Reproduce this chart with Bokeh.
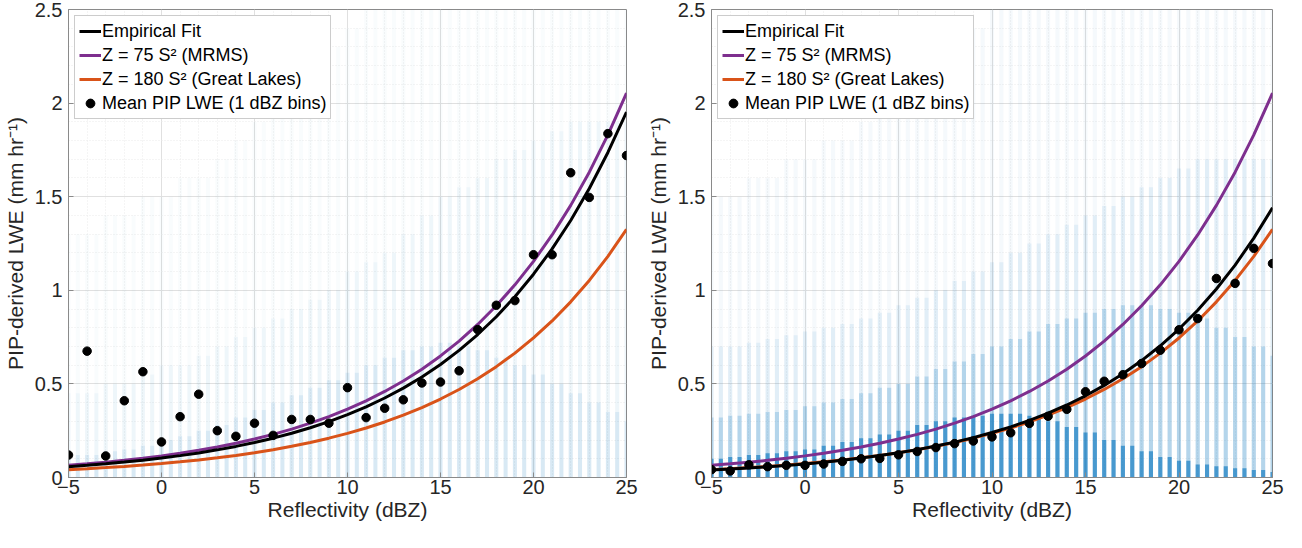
from bokeh.plotting import figure
from bokeh.models import Range1d, FixedTicker, Legend, LegendItem
from bokeh.layouts import row
from bokeh.embed import file_html
from bokeh.resources import INLINE

# ---------------- data ----------------
dbz = list(range(-5, 26))

fit_left = [0.0578, 0.0650, 0.0731, 0.0822, 0.0924, 0.1039, 0.1168, 0.1314, 0.1477, 0.1661,
            0.1868, 0.2101, 0.2362, 0.2656, 0.2987, 0.3359, 0.3777, 0.4247, 0.4776, 0.5371,
            0.6040, 0.6791, 0.7637, 0.8588, 0.9657, 1.0859, 1.2211, 1.3731, 1.5440, 1.7363, 1.9524]
fit_right = [0.0400, 0.0451, 0.0508, 0.0573, 0.0645, 0.0727, 0.0820, 0.0924, 0.1041, 0.1173,
             0.1322, 0.1489, 0.1678, 0.1891, 0.2131, 0.2402, 0.2706, 0.3050, 0.3437, 0.3873,
             0.4364, 0.4918, 0.5542, 0.6245, 0.7037, 0.7930, 0.8936, 1.0070, 1.1348, 1.2788, 1.4410]
mrms = [0.0649, 0.0729, 0.0818, 0.0917, 0.1029, 0.1155, 0.1296, 0.1454, 0.1631, 0.1830,
        0.2053, 0.2304, 0.2585, 0.2901, 0.3254, 0.3652, 0.4097, 0.4597, 0.5158, 0.5787,
        0.6493, 0.7286, 0.8175, 0.9172, 1.0291, 1.1547, 1.2956, 1.4537, 1.6311, 1.8301, 2.0534]
great_lakes = [0.0419, 0.0470, 0.0528, 0.0592, 0.0664, 0.0745, 0.0836, 0.0938, 0.1053, 0.1181,
               0.1326, 0.1487, 0.1669, 0.1872, 0.2101, 0.2357, 0.2645, 0.2967, 0.3330, 0.3736,
               0.4192, 0.4703, 0.5277, 0.5921, 0.6643, 0.7454, 0.8363, 0.9384, 1.0529, 1.1814, 1.3255]
mean_left = [0.12, 0.675, 0.115, 0.41, 0.565, 0.19, 0.325, 0.445, 0.25, 0.22,
             0.29, 0.225, 0.31, 0.31, 0.29, 0.48, 0.32, 0.37, 0.415, 0.505,
             0.51, 0.57, 0.79, 0.92, 0.945, 1.19, 1.19, 1.628, 1.496, 1.837, 1.72]
mean_right = [0.042, 0.035, 0.068, 0.058, 0.065, 0.065, 0.072, 0.086, 0.10, 0.102,
              0.121, 0.139, 0.16, 0.181, 0.195, 0.217, 0.239, 0.289, 0.327, 0.364,
              0.458, 0.514, 0.549, 0.609, 0.68, 0.789, 0.849, 1.063, 1.037, 1.224, 1.143]

# envelope (top LWE) of each density band of the individual PIP samples, per 1 dBZ
left_faint = [1.3, 1.3, 1.4, 1.4, 1.5, 1.5, 1.6, 1.6, 1.7, 1.8, 1.9, 2.0, 2.1, 2.2, 2.3, 2.4,
              2.5, 2.5, 2.5, 2.5, 2.5, 2.5, 2.5, 2.5, 2.5, 2.5, 2.5, 2.5, 2.5, 2.5, 2.5]
left_light = [0.45, 0.45, 0.5, 0.5, 0.55, 0.6, 0.6, 0.65, 0.7, 0.75, 0.8, 0.85, 0.9, 0.95, 1.0, 1.1,
              1.15, 1.2, 1.3, 1.4, 1.5, 1.55, 1.6, 1.7, 1.75, 1.8, 1.85, 1.9, 1.9, 1.9, 1.9]
left_medium = [0.12, 0.12, 0.14, 0.15, 0.17, 0.2, 0.22, 0.25, 0.28, 0.32, 0.36, 0.4, 0.44, 0.48, 0.52, 0.56,
               0.6, 0.64, 0.68, 0.7, 0.72, 0.7, 0.68, 0.64, 0.6, 0.55, 0.5, 0.45, 0.4, 0.35, 0.3]
right_faint = [1.5, 1.5, 1.6, 1.6, 1.7, 1.7, 1.8, 1.8, 1.9, 2.0, 2.0, 2.1, 2.2, 2.3, 2.4,
               2.5, 2.5, 2.5, 2.5, 2.5, 2.5, 2.5, 2.5, 2.5, 2.5, 2.5, 2.5, 2.5, 2.5, 2.5, 2.5]
right_light = [0.7, 0.7, 0.72, 0.74, 0.76, 0.78, 0.8, 0.82, 0.85, 0.88, 0.92, 0.96, 1.0, 1.05, 1.1, 1.15,
               1.2, 1.25, 1.3, 1.35, 1.4, 1.45, 1.5, 1.55, 1.6, 1.65, 1.7, 1.7, 1.7, 1.7, 1.7]
right_medium = [0.32, 0.33, 0.34, 0.35, 0.36, 0.38, 0.4, 0.42, 0.45, 0.48, 0.5, 0.54, 0.58, 0.62, 0.66, 0.7,
                0.74, 0.78, 0.82, 0.85, 0.88, 0.9, 0.92, 0.92, 0.9, 0.88, 0.85, 0.8, 0.75, 0.7, 0.65]
right_dense = [0.1, 0.11, 0.12, 0.13, 0.14, 0.15, 0.17, 0.19, 0.21, 0.23, 0.25, 0.28, 0.3, 0.32, 0.33, 0.34,
               0.34, 0.33, 0.3, 0.27, 0.24, 0.2, 0.17, 0.14, 0.11, 0.09, 0.07, 0.06, 0.05, 0.04, 0.03]

x_ticks = [-5, 0, 5, 10, 15, 20, 25]
y_ticks = [0, 0.5, 1, 1.5, 2, 2.5]
y_tick_labels = {0: "0", 0.5: "0.5", 1: "1", 1.5: "1.5", 2: "2", 2.5: "2.5"}

x_title = "Reflectivity (dBZ)"
y_title = "PIP-derived LWE (mm hr\u207b\u00b9)"
labels = ["Empirical Fit", "Z = 75 S\u00b2 (MRMS)", "Z = 180 S\u00b2 (Great Lakes)", "Mean PIP LWE (1 dBZ bins)"]

FONT = "Liberation Sans"
TXT = "#262626"
BLUE = "#0072BD"
PURPLE = "#7E2F8E"
ORANGE = "#D95319"


def cloud_columns(tops):
    xs, ys = [], []
    for d, t in zip(dbz, tops):
        xs.append(d); ys.append(t)
        if d < 25:
            xs.append(d + 0.5); ys.append(t)
    return xs, ys


def make_panel(fit, mean, layers, border_left, border_right):
    p = figure(width=643, height=523, output_backend="svg", toolbar_location=None,
               x_range=Range1d(-5, 25), y_range=Range1d(0, 2.5),
               min_border_left=border_left, min_border_right=border_right,
               min_border_top=9, min_border_bottom=40)
    p.outline_line_color = "#8a8a8a"
    p.outline_line_width = 1
    p.background_fill_color = "white"

    for tops, alpha in layers:
        xs, ys = cloud_columns(tops)
        p.vbar(x=xs, top=ys, bottom=0, width=0.22, fill_color=BLUE, fill_alpha=alpha, line_color=None)

    r_mrms = p.line(dbz, mrms, line_color=PURPLE, line_width=3)
    r_gl = p.line(dbz, great_lakes, line_color=ORANGE, line_width=3)
    r_fit = p.line(dbz, fit, line_color="black", line_width=3)
    r_mean = p.scatter(dbz, mean, size=8.5, fill_color="black", line_color="black")
    legend = Legend(items=[LegendItem(label=labels[0], renderers=[r_fit]),
                           LegendItem(label=labels[1], renderers=[r_mrms]),
                           LegendItem(label=labels[2], renderers=[r_gl]),
                           LegendItem(label=labels[3], renderers=[r_mean])],
                    location="top_left")
    legend.margin = 6
    legend.padding = 4
    legend.spacing = 2
    legend.label_text_font = FONT
    legend.label_text_font_size = "18px"
    legend.label_text_color = "black"
    legend.label_height = 22
    legend.label_standoff = 1
    legend.glyph_width = 22
    legend.glyph_height = 22
    legend.border_line_color = "#9a9a9a"
    legend.border_line_width = 1
    legend.background_fill_alpha = 1
    p.add_layout(legend)

    p.xaxis.ticker = FixedTicker(ticks=x_ticks, minor_ticks=list(range(-5, 26)))
    p.yaxis.ticker = FixedTicker(ticks=y_ticks, minor_ticks=[i / 10 for i in range(0, 26)])
    p.yaxis.major_label_overrides = y_tick_labels
    for ax in (p.xaxis, p.yaxis):
        ax.axis_line_color = "#8a8a8a"
        ax.major_tick_in = 5
        ax.major_tick_out = 0
        ax.minor_tick_in = 0
        ax.minor_tick_out = 0
        ax.major_tick_line_color = "#8a8a8a"
        ax.minor_tick_line_color = None
        ax.major_label_text_font = FONT
        ax.major_label_text_font_size = "20px"
        ax.major_label_text_color = TXT
        ax.axis_label_text_font = FONT
        ax.axis_label_text_font_size = "21px"
        ax.axis_label_text_font_style = "normal"
        ax.axis_label_text_color = TXT
    p.xaxis.axis_label = x_title
    p.yaxis.axis_label = y_title
    p.xaxis.major_label_standoff = 2
    p.yaxis.major_label_standoff = 6
    p.xaxis.axis_label_standoff = 1
    p.yaxis.axis_label_standoff = 5

    for g in (p.xgrid, p.ygrid):
        g.grid_line_color = "#e0e0e0"
        g.grid_line_width = 1
        g.minor_grid_line_color = "#ebebeb"
        g.minor_grid_line_dash = "1 2"
    return p


left = make_panel(fit_left, mean_left,
                  [(left_faint, 0.025), (left_light, 0.045), (left_medium, 0.09)], 63, 17)
right = make_panel(fit_right, mean_right,
                   [(right_faint, 0.04), (right_light, 0.08), (right_medium, 0.2), (right_dense, 0.6)], 60, 14)

layout = row(left, right)
open("out.html", "w").write(file_html(layout, INLINE))
